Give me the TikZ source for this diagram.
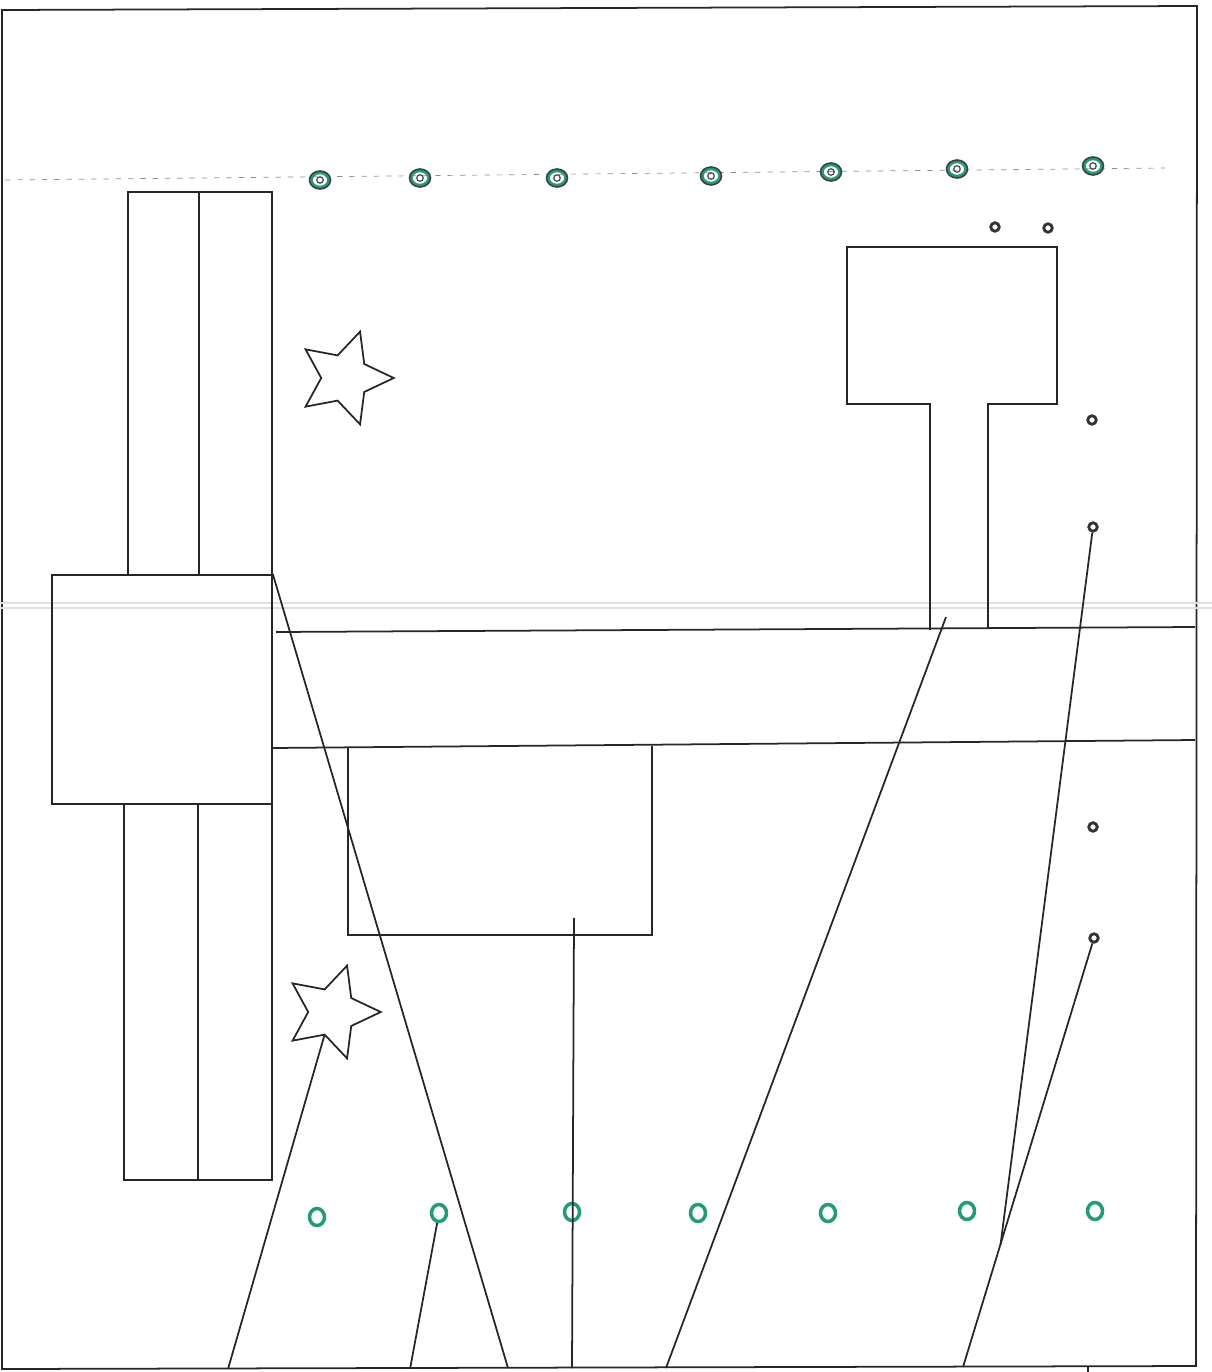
\documentclass[tikz,border=0pt]{standalone}
\usepackage{tikz}
\usetikzlibrary{shapes.geometric}
\definecolor{ringgreen}{RGB}{35,155,115}
\begin{document}
\begin{tikzpicture}[x=0.02cm, y=-0.02cm,
  wall/.style={draw=black!85, line width=1pt},
  ring/.style={ellipse, draw=ringgreen, line width=2pt, minimum width=0.3cm, minimum height=0.34cm, inner sep=0pt},
  pin/.style={circle, draw=black!80, line width=1.6pt, minimum size=0.17cm, inner sep=0pt},
  starmark/.style={star, star points=5, star point ratio=2.05, shape border rotate=-90, draw=black!85, line width=1pt, minimum size=1.95cm, inner sep=0pt}]
  \useasboundingbox (0,0) rectangle (1212,1372);
  % frame and scan line
  \draw[wall] (2,10) -- (1197,6) -- (1196,1366) -- (2,1369) -- cycle;
  \draw[black!12, line width=1pt] (0,603) -- (1212,603) (0,608) -- (1212,608);
  \draw[black!45, dash pattern=on 3pt off 4pt] (5,180) -- (1165,168);
  % rings along the top line
  \foreach \x/\y [count=\i] in {320/180,420/178,557/178,711/176,831/172,957/169,1093/166} {
    \node[ring, minimum width=0.36cm, minimum height=0.3cm] (gt\i) at (\x,\y) {};
    \node[ellipse, draw=black!75, line width=0.9pt, minimum width=0.42cm, minimum height=0.36cm, inner sep=0pt] at (\x,\y) {};
    \node[circle, draw=black!70, line width=0.7pt, minimum size=0.13cm, inner sep=0pt] at (\x,\y) {};
  }
  % rings along the bottom
  \foreach \x/\y [count=\i] in {317/1217,439/1213,572/1212,698/1213,828/1213,967/1211,1095/1211}
    \node[ring] (gb\i) at (\x,\y) {};
  % small posts
  \foreach \x/\y [count=\i] in {995/227,1048/228,1092/420,1093/527,1093/827,1094/938}
    \node[pin] (d\i) at (\x,\y) {};
  % left column with square hall
  \draw[wall] (128,575) -- (128,192) -- (272,192) -- (272,575);
  \draw[wall] (199,192) -- (199,575);
  \node[wall, minimum width=4.4cm, minimum height=4.58cm, inner sep=0pt] (hall) at (162,689.5) {};
  \draw[wall] (124,804) -- (124,1180) -- (272,1180) -- (272,804);
  \draw[wall] (198,804) -- (198,1180);
  % corridor
  \draw[wall] (276,632) -- (1195,627);
  \draw[wall] (272,748) -- (1195,740);
  % box under the corridor
  \draw[wall] (348,748) -- (348,935) -- (652,935) -- (652,746);
  % T-shaped block
  \draw[wall] (930,630) -- (930,404) -- (847,404) -- (847,247) -- (1057,247) -- (1057,404) -- (988,404) -- (988,628);
  % stars
  \node[starmark] (star1) at (345,378) {};
  \node[starmark] (star2) at (332,1012) {};
  % anchor points
  \coordinate (boxfoot) at (574,918);
  \coordinate (stemfoot) at (946,617);
  \coordinate (fork) at (1000.5,1245);
  \coordinate (b1) at (228,1369);
  \coordinate (b2) at (410,1369);
  \coordinate (b3) at (508,1368);
  \coordinate (b4) at (572,1368);
  \coordinate (b5) at (666,1368);
  \coordinate (b6) at (963,1367);
  \coordinate (b7) at (1088,1367);
  % lines to the bottom edge
  \draw[wall] (star2.-108) -- (b1);
  \draw[wall] (gb2) -- (b2);
  \draw[wall] (hall.north east) -- (b3);
  \draw[wall] (boxfoot) -- (b4);
  \draw[wall] (stemfoot) -- (b5);
  \draw[wall] (d4) -- (fork);
  \draw[wall] (d6) -- (b6);
  \draw[wall] (b7) -- ++(0,8);
\end{tikzpicture}
\end{document}
